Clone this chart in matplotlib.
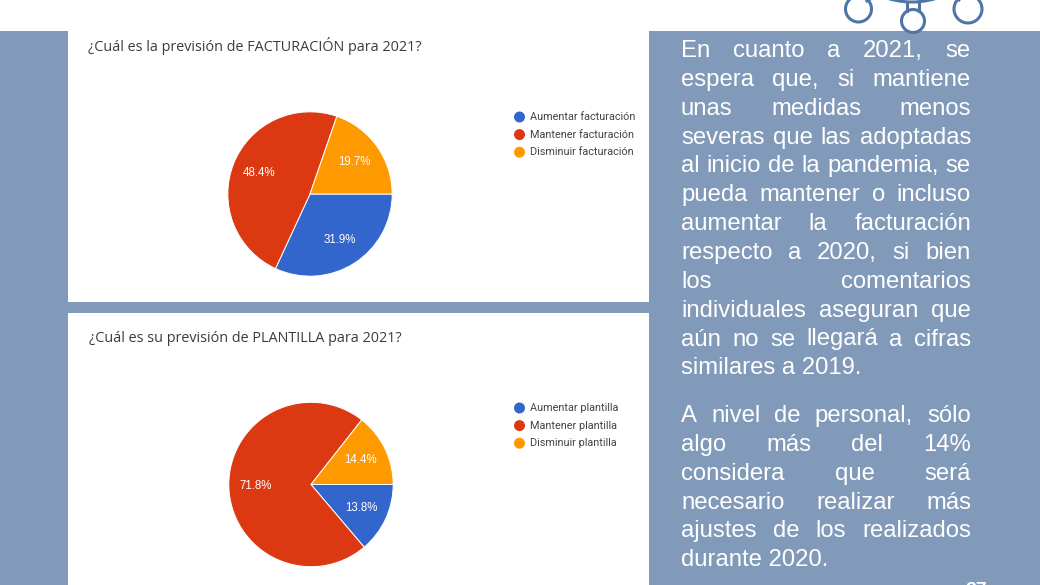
import matplotlib
matplotlib.use('Agg')
import matplotlib.pyplot as plt
from matplotlib.patches import Rectangle, Circle

# Data
title_top = '¿Cuál es la previsión de FACTURACIÓN para 2021?'
labels_top = ['Aumentar facturación', 'Mantener facturación', 'Disminuir facturación']
values_top = [31.9, 48.4, 19.7]

title_bottom = '¿Cuál es su previsión de PLANTILLA para 2021?'
labels_bottom = ['Aumentar plantilla', 'Mantener plantilla', 'Disminuir plantilla']
values_bottom = [13.8, 71.8, 14.4]

colors = ['#3366CC', '#DC3912', '#FF9900']

para1 = ['En cuanto a 2021, se', 'espera que, si mantiene', 'unas medidas menos',
         'severas que las adoptadas', 'al inicio de la pandemia, se',
         'pueda mantener o incluso', 'aumentar la facturación',
         'respecto a 2020, si bien', 'los comentarios',
         'individuales aseguran que', 'aún no se llegará a cifras', 'similares a 2019.']
para2 = ['A nivel de personal, sólo', 'algo más del 14%', 'considera que será',
         'necesario realizar más', 'ajustes de los realizados', 'durante 2020.']

BLUE = '#819ABA'
LOGO = '#4F74A6'
W, H = 1040, 585

fig = plt.figure(figsize=(W / 100, H / 100), dpi=100, facecolor='white')
bg = fig.add_axes([0, 0, 1, 1])
bg.set_xlim(0, W)
bg.set_ylim(H, 0)
bg.axis('off')

# slide background and white panels
bg.add_patch(Rectangle((0, 31), W, H - 31, color=BLUE, lw=0))
bg.add_patch(Rectangle((68, 31), 581, 271, color='white', lw=0))
bg.add_patch(Rectangle((68, 313), 581, 272, color='white', lw=0))

# logo pieces at top right
for cx, cy, r in [(858.5, 9, 13), (913, 21, 11.5), (968, 9, 14)]:
    bg.add_patch(Circle((cx, cy), r, fill=False, ec=LOGO, lw=2.2, zorder=3))
bg.add_patch(Circle((912, -80), 82, fill=False, ec=LOGO, lw=2.2, zorder=3))
bg.plot([867, 877], [1, -5], color=LOGO, lw=2.2, zorder=3)
bg.plot([959, 949], [0, -5], color=LOGO, lw=2.2, zorder=3)
bg.plot([906.5, 906.5], [2, 11], color=LOGO, lw=2.2, zorder=3)
bg.plot([918.5, 918.5], [2, 11], color=LOGO, lw=2.2, zorder=3)


def draw_pie(cx, cy, r, values):
    ax = fig.add_axes([(cx - r) / W, 1 - (cy + r) / H, 2 * r / W, 2 * r / H])
    ax.pie(values, colors=colors, startangle=0, counterclock=False,
           radius=1, autopct='%.1f%%', pctdistance=0.67,
           wedgeprops={'edgecolor': 'white', 'linewidth': 0.7},
           textprops={'color': 'white', 'fontsize': 8.3, 'family': 'Liberation Sans'})
    ax.set_xlim(-1.01, 1.01)
    ax.set_ylim(-1.01, 1.01)


def draw_legend(x, y, labels):
    for i, lab in enumerate(labels):
        yy = y + i * 17.6
        bg.add_patch(Circle((x, yy), 5.5, color=colors[i], lw=0))
        bg.text(x + 10.5, yy, lab, fontsize=7.8, family='Roboto', color='#444444', va='center')


bg.text(88, 46, title_top, fontsize=10.35, family='Open Sans', color='#3C3C3C', va='center')
bg.text(89, 338, title_bottom, fontsize=10.35, family='Open Sans', color='#3C3C3C', va='center')
draw_pie(310, 194, 83, values_top)
draw_pie(311, 484.5, 83, values_bottom)
draw_legend(519.5, 117, labels_top)
draw_legend(519.5, 408, labels_bottom)

# justified text column
renderer = fig.canvas.get_renderer()
body = dict(fontsize=17.2, family='Liberation Sans', color='white', va='baseline')


def word_width(s):
    t = bg.text(0, 0, s, **body)
    w = t.get_window_extent(renderer).width
    t.remove()
    return w


def draw_par(lines, y0, step=28.85, x0=681, x1=971):
    for i, line in enumerate(lines):
        y = y0 + i * step
        words = line.split(' ')
        if i == len(lines) - 1:
            bg.text(x0, y, line, **body)
            continue
        widths = [word_width(w) for w in words]
        gap = (x1 - x0 - sum(widths)) / (len(words) - 1)
        x = x0
        for w, ww in zip(words, widths):
            bg.text(x, y, w, **body)
            x += ww + gap


draw_par(para1, 57)
draw_par(para2, 422)

# page number, cut by the slide edge
bg.text(976, 595, '27', fontsize=14, family='Liberation Sans', fontweight='bold',
        color='white', ha='center', va='baseline', clip_on=False)

fig.savefig('out.png', dpi=100)
